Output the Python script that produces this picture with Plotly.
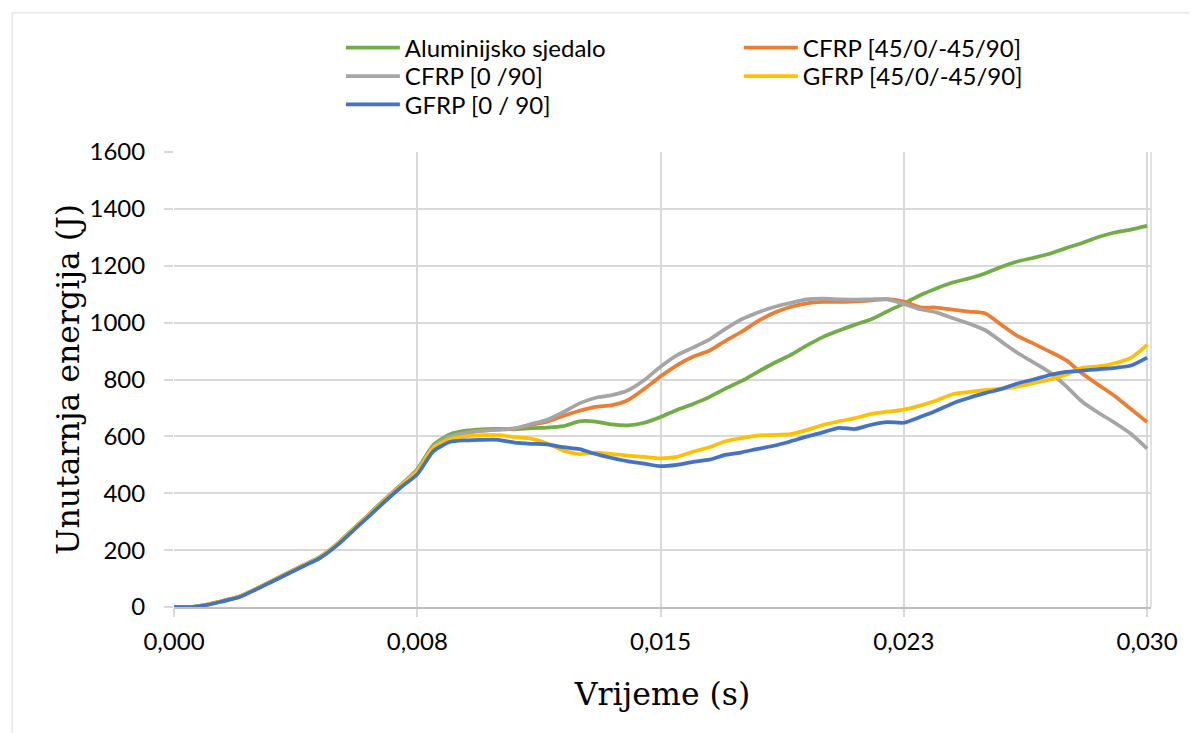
import plotly.graph_objects as go

# time (s)
t = [0.0000, 0.0005, 0.0010, 0.0015, 0.0020, 0.0025, 0.0030, 0.0035, 0.0040, 0.0045,
     0.0050, 0.0055, 0.0060, 0.0065, 0.0070, 0.0075, 0.0080, 0.0085, 0.0090, 0.0095,
     0.0100, 0.0105, 0.0110, 0.0115, 0.0120, 0.0125, 0.0130, 0.0135, 0.0140, 0.0145,
     0.0150, 0.0155, 0.0160, 0.0165, 0.0170, 0.0175, 0.0180, 0.0185, 0.0190, 0.0195,
     0.0200, 0.0205, 0.0210, 0.0215, 0.0220, 0.0225, 0.0230, 0.0235, 0.0240, 0.0245,
     0.0250, 0.0255, 0.0260, 0.0265, 0.0270, 0.0275, 0.0280, 0.0285, 0.0290, 0.0295,
     0.0300]

aluminij = [0, 0, 8, 21, 36, 62, 90, 119, 147, 176,
            219, 272, 325, 379, 430, 485, 570, 607, 620, 625,
            626, 625, 629, 631, 636, 653, 652, 642, 639, 648,
            668, 693, 714, 738, 768, 795, 827, 858, 886, 919,
            949, 972, 993, 1012, 1040, 1067, 1096, 1120, 1141, 1155,
            1173, 1196, 1215, 1228, 1242, 1262, 1280, 1301, 1317, 1327,
            1340]

cfrp_45 = [0, 0, 8, 21, 36, 62, 90, 119, 147, 175,
           218, 271, 323, 377, 428, 480, 563, 598, 612, 620,
           624, 627, 640, 652, 672, 690, 704, 710, 728, 767,
           811, 850, 880, 901, 936, 968, 1005, 1035, 1055, 1068,
           1073, 1073, 1075, 1078, 1083, 1074, 1054, 1053, 1046, 1039,
           1033, 993, 953, 926, 898, 868, 821, 781, 742, 696,
           650]

cfrp_0_90 = [0, 0, 8, 21, 36, 62, 90, 119, 147, 175,
             218, 271, 323, 377, 428, 480, 565, 600, 612, 620,
             624, 628, 643, 658, 685, 716, 736, 745, 762, 798,
             845, 885, 912, 940, 978, 1012, 1036, 1055, 1069, 1082,
             1084, 1082, 1081, 1082, 1082, 1066, 1047, 1036, 1016, 997,
             974, 934, 894, 860, 825, 777, 722, 683, 648, 609,
             557]

gfrp_45 = [0, 0, 8, 21, 36, 62, 90, 119, 147, 175,
           218, 271, 323, 376, 427, 478, 560, 590, 600, 604,
           604, 597, 592, 575, 550, 538, 543, 538, 532, 528,
           523, 528, 546, 562, 583, 594, 603, 605, 608, 622,
           640, 653, 664, 679, 687, 694, 708, 726, 748, 756,
           763, 768, 775, 787, 800, 818, 841, 846, 857, 876,
           922]

gfrp_0_90 = [0, 0, 7, 20, 34, 60, 88, 116, 144, 172,
             214, 266, 318, 371, 421, 467, 548, 580, 586, 588,
             588, 578, 574, 572, 562, 555, 538, 524, 512, 504,
             495, 500, 510, 518, 535, 544, 556, 567, 582, 599,
             614, 630, 626, 641, 650, 648, 668, 690, 716, 735,
             752, 766, 786, 800, 816, 827, 831, 836, 841, 849,
             877]

series_names = ["Aluminijsko sjedalo", "CFRP [45/0/-45/90]", "CFRP [0 /90]",
                "GFRP [45/0/-45/90]", "GFRP [0 / 90]"]
series_values = [aluminij, cfrp_45, cfrp_0_90, gfrp_45, gfrp_0_90]
series_colors = ["#70AD47", "#ED7D31", "#A5A5A5", "#FFC000", "#4472C4"]
legend_rows = ["legend", "legend", "legend2", "legend2", "legend3"]

x_tickvals = [0.0, 0.0075, 0.015, 0.0225, 0.030]
x_ticktext = ["0,000", "0,008", "0,015", "0,023", "0,030"]
y_tickvals = [0, 200, 400, 600, 800, 1000, 1200, 1400, 1600]

fig = go.Figure()
for name, vals, col, lg in zip(series_names, series_values, series_colors, legend_rows):
    fig.add_trace(go.Scatter(
        x=t, y=vals, name=name, mode="lines", legend=lg,
        line=dict(color=col, width=3.75, shape="spline", smoothing=0.6),
    ))

grid = "#d9d9d9"
sans = "Lato, 'Open Sans', sans-serif"
serif = "'DejaVu Serif', 'Liberation Serif', serif"
tick_font = dict(family=sans, size=24, color="#000000")


def row_legend(ypos):
    return dict(
        orientation="h", x=0.1708, xanchor="left", y=ypos, yanchor="top",
        entrywidth=329, entrywidthmode="pixels",
        font=dict(family=sans, size=24, color="#000000"),
        itemwidth=54, bgcolor="rgba(0,0,0,0)", borderwidth=0,
    )


fig.update_layout(
    width=1197, height=733,
    margin=dict(l=166, r=53.5, t=144, b=134.3),
    paper_bgcolor="white", plot_bgcolor="white",
    showlegend=True,
    legend=row_legend(1.2778),
    legend2=row_legend(1.2155),
    legend3=row_legend(1.1533),
    xaxis=dict(
        range=[0, 0.03012], tickvals=x_tickvals, ticktext=x_ticktext,
        showgrid=True, gridcolor=grid, gridwidth=1.5,
        ticks="outside", ticklen=8, tickcolor=grid, tickwidth=1.5,
        showline=True, linecolor="#bfbfbf", linewidth=1.5,
        zeroline=False, tickfont=tick_font, automargin=False,
        ticklabelstandoff=4,
        title=dict(text="Vrijeme (s)", standoff=29,
                   font=dict(family=serif, size=31.5, color="#000000")),
    ),
    yaxis=dict(
        range=[0, 1600], tickvals=y_tickvals,
        showgrid=True, gridcolor=grid, gridwidth=1.5,
        ticks="outside", ticklen=9, tickcolor=grid, tickwidth=1.5,
        showline=False, zeroline=False, tickfont=tick_font, automargin=False,
        ticklabelstandoff=14,
        title=dict(text="Unutarnja energija (J)", standoff=0,
                   font=dict(family=serif, size=31.5, color="#000000")),
    ),
    shapes=[
        dict(type="rect", xref="paper", yref="paper",
             x0=-0.1657, x1=1.06, y0=-0.32, y1=1.3057,
             line=dict(color="#d9d9d9", width=1), fillcolor="rgba(0,0,0,0)", layer="below"),
        dict(type="line", xref="paper", yref="paper", x0=1, x1=1, y0=0, y1=1,
             line=dict(color=grid, width=1.5), layer="below"),
    ],
)

fig.write_html("out.html")
